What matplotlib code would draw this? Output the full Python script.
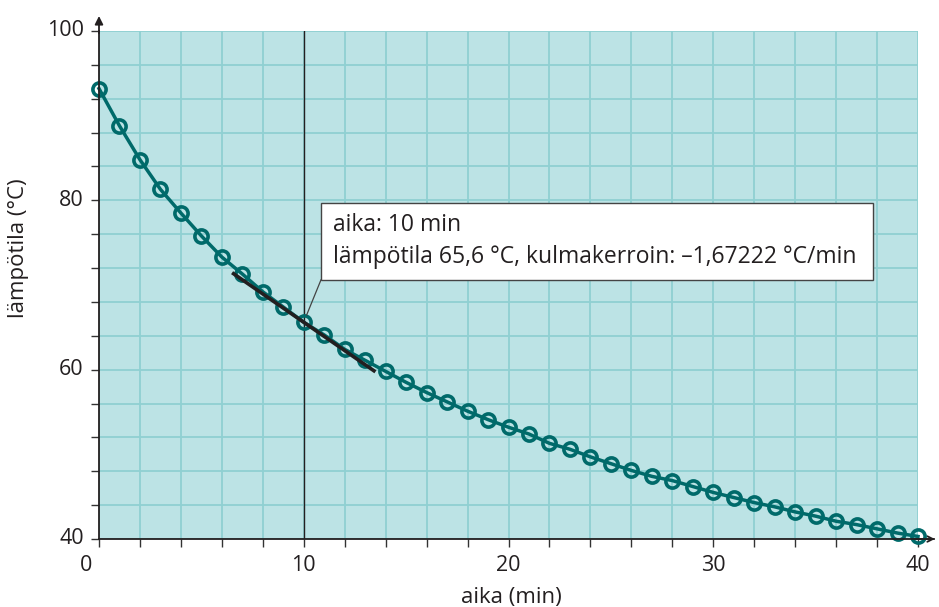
import matplotlib
matplotlib.use("Agg")
import matplotlib.pyplot as plt
from matplotlib.patches import Rectangle
import numpy as np

plt.rcParams['font.family'] = ['Open Sans', 'DejaVu Sans']

# Data
aika = list(range(0, 41))
lampotila = [93.2, 88.8, 84.8, 81.3, 78.5, 75.8, 73.3, 71.3, 69.2, 67.4,
             65.6, 64.1, 62.4, 61.1, 59.8, 58.5, 57.3, 56.2, 55.1, 54.1,
             53.2, 52.4, 51.3, 50.6, 49.7, 48.9, 48.1, 47.4, 46.9, 46.2,
             45.5, 44.9, 44.3, 43.8, 43.2, 42.7, 42.1, 41.7, 41.2, 40.7,
             40.3]
tangent_t = 10
tangent_T = 65.6
tangent_slope = -1.67222
tangent_span = [6.5, 13.5]
x_major = [0, 10, 20, 30, 40]
y_major = [40, 60, 80, 100]
info_line1 = "aika: 10 min"
info_line2 = "lämpötila 65,6 °C, kulmakerroin: \u20131,67222 °C/min"

BG = '#bce3e5'
GRID = '#8fd0d2'
TEAL = '#006a6a'
DARK = '#231f20'

fig = plt.figure(figsize=(9.39, 6.07), dpi=100)
ax = fig.add_axes([99/939, 1-539/607, (918-99)/939, (539-31)/607])
ax.set_xlim(0, 40)
ax.set_ylim(40, 100)
ax.set_facecolor(BG)

# grid
ax.set_xticks(np.arange(0, 41, 2), minor=False)
ax.set_yticks(np.arange(40, 101, 4), minor=False)
ax.grid(True, color=GRID, linewidth=1.3)
ax.set_axisbelow(True)
ax.set_xticklabels([])
ax.set_yticklabels([])
ax.tick_params(axis='both', direction='out', length=6, width=1, color='#333333')

for s in ['top', 'right']:
    ax.spines[s].set_visible(False)
for s in ['left', 'bottom']:
    ax.spines[s].set_color(DARK)
    ax.spines[s].set_linewidth(1.3)
    ax.spines[s].set_zorder(5)

# tick labels
fs_tick = 15.5
for xv in x_major:
    dx = -9 if xv == 0 else 0
    ax.annotate(str(xv), xy=(xv, 40), xycoords='data', xytext=(dx, -19),
                textcoords='offset points', ha='center', va='center',
                fontsize=fs_tick, color=DARK, annotation_clip=False)
for yv in y_major:
    ax.annotate(str(yv), xy=(0, yv), xycoords='data', xytext=(-11, 0),
                textcoords='offset points', ha='right', va='center',
                fontsize=fs_tick, color=DARK, annotation_clip=False)

# axis arrows
ax.annotate('', xy=(0, 1.035), xycoords='axes fraction', xytext=(0, 0.99),
            arrowprops=dict(arrowstyle='-|>', color=DARK, lw=1.3,
                            mutation_scale=12), annotation_clip=False)
ax.annotate('', xy=(1.024, 0), xycoords='axes fraction', xytext=(0.99, 0),
            arrowprops=dict(arrowstyle='->', color=DARK, lw=1.3,
                            mutation_scale=10), annotation_clip=False)
ax.plot([1.0, 1.02], [0, 0], transform=ax.transAxes, color=DARK, lw=1.3,
        clip_on=False, zorder=5)

# vertical line at t
ax.axvline(tangent_t, color=DARK, lw=1.0, zorder=2)

# data
ax.plot(aika, lampotila, color=TEAL, lw=2.5, marker='o', markersize=9.5,
        markerfacecolor='none', markeredgecolor=TEAL, markeredgewidth=2.6,
        zorder=3, clip_on=False)

# tangent
tx = np.array(tangent_span)
ty = tangent_T + tangent_slope * (tx - tangent_t)
ax.plot(tx, ty, color=DARK, lw=2.6, zorder=4, solid_capstyle='butt')

# info box
fs_info = 16.5
x0, x1 = 10.84, 37.8
y0, y1 = 70.6, 79.7
ax.add_patch(Rectangle((x0, y0), x1 - x0, y1 - y0, facecolor='white',
                       edgecolor='#444444', lw=1.0, zorder=6))
ax.text(11.43, 77.1, info_line1, fontsize=fs_info, color=DARK, ha='left',
        va='center', zorder=7)
ax.text(11.43, 73.3, info_line2, fontsize=fs_info, color=DARK, ha='left',
        va='center', zorder=7)
ax.plot([x0, 10.14], [y0, 66.45], color='#444444', lw=0.9, zorder=6)

# axis labels
fs_label = 16
fig.text(511/939, 1-597/607, 'aika (min)', ha='center', va='center',
         fontsize=fs_label, color=DARK)
fig.text(19/939, 1-248/607, 'lämpötila (°C)', ha='center', va='center',
         fontsize=fs_label, color=DARK, rotation=90)

fig.savefig('out.png', dpi=100, facecolor='white')
